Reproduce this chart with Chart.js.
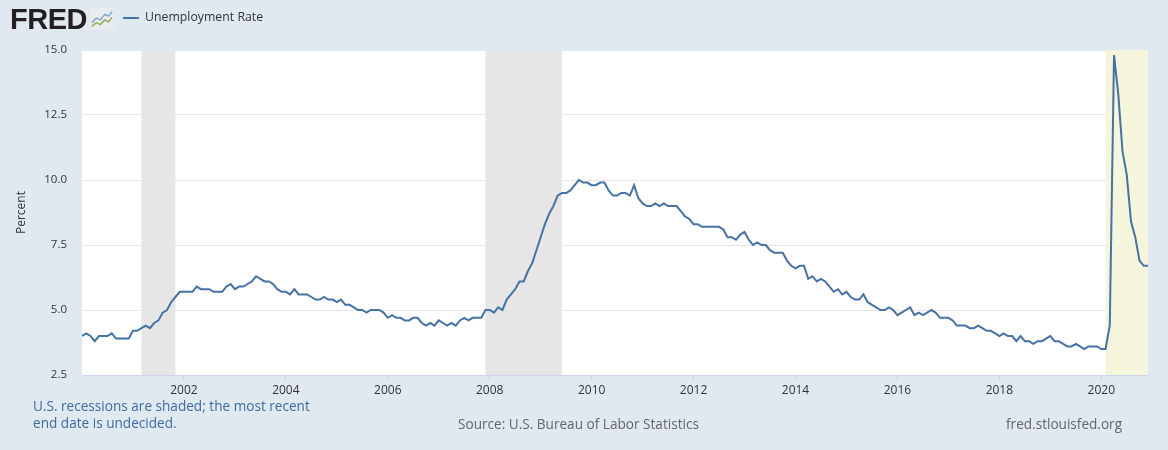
<!DOCTYPE html>
<html>
<head>
<meta charset="utf-8">
<script src="https://cdn.jsdelivr.net/npm/chart.js@4.4.1/dist/chart.umd.min.js"></script>
<style>
  html, body { margin: 0; padding: 0; background: #e1e9f0; }
  #wrap { position: relative; width: 1168px; height: 450px; overflow: hidden; font-family: "Open Sans", "Noto Sans", sans-serif; }
  #myChart { position: absolute; left: 0; top: 0; }
  .logo { position: absolute; left: 10px; top: 3px; font-family: "Liberation Sans", Arial, sans-serif; font-weight: bold; font-size: 29px; letter-spacing: -0.5px; color: #231f20; }
  .legend { position: absolute; left: 123px; top: 8px; font-size: 12.3px; color: #333; }
  .legend span.sw { display: inline-block; width: 16px; height: 2px; background: #4572a7; vertical-align: middle; margin-right: 6px; }
  .note { position: absolute; left: 33px; top: 397px; font-size: 13.6px; line-height: 17px; color: #3e6ba4; }
  .src { position: absolute; left: 458px; top: 414px; font-size: 13.6px; color: #666; }
  .site { position: absolute; left: 1006px; top: 414px; font-size: 13.6px; color: #666; }
</style>
</head>
<body>
<div id="wrap">
  <canvas id="myChart" width="1168" height="450"></canvas>
  <div class="logo">FRED<svg width="24" height="22" viewBox="0 0 26 22" style="vertical-align: -1px; margin-left: 3px; background:#e8ecee;">
    <polyline points="2,15 7,10 11,12 16,6 20,8 24,3" fill="none" stroke="#7ea3c8" stroke-width="1.5"/>
    <polyline points="2,19 7,15 11,17 16,12 20,14 24,9" fill="none" stroke="#8ab04f" stroke-width="1.5"/>
  </svg></div>
  <div class="legend"><span class="sw"></span>Unemployment Rate</div>
  <div class="note">U.S. recessions are shaded; the most recent<br>end date is undecided.</div>
  <div class="src">Source: U.S. Bureau of Labor Statistics</div>
  <div class="site">fred.stlouisfed.org</div>
</div>
<script>
// monthly unemployment rate, Jan 2000 .. Dec 2020 (one row per year)
var startYear = 2000;
var unrate = [
  4.0, 4.1, 4.0, 3.8, 4.0, 4.0, 4.0, 4.1, 3.9, 3.9, 3.9, 3.9,
  4.2, 4.2, 4.3, 4.4, 4.3, 4.5, 4.6, 4.9, 5.0, 5.3, 5.5, 5.7,
  5.7, 5.7, 5.7, 5.9, 5.8, 5.8, 5.8, 5.7, 5.7, 5.7, 5.9, 6.0,
  5.8, 5.9, 5.9, 6.0, 6.1, 6.3, 6.2, 6.1, 6.1, 6.0, 5.8, 5.7,
  5.7, 5.6, 5.8, 5.6, 5.6, 5.6, 5.5, 5.4, 5.4, 5.5, 5.4, 5.4,
  5.3, 5.4, 5.2, 5.2, 5.1, 5.0, 5.0, 4.9, 5.0, 5.0, 5.0, 4.9,
  4.7, 4.8, 4.7, 4.7, 4.6, 4.6, 4.7, 4.7, 4.5, 4.4, 4.5, 4.4,
  4.6, 4.5, 4.4, 4.5, 4.4, 4.6, 4.7, 4.6, 4.7, 4.7, 4.7, 5.0,
  5.0, 4.9, 5.1, 5.0, 5.4, 5.6, 5.8, 6.1, 6.1, 6.5, 6.8, 7.3,
  7.8, 8.3, 8.7, 9.0, 9.4, 9.5, 9.5, 9.6, 9.8, 10.0, 9.9, 9.9,
  9.8, 9.8, 9.9, 9.9, 9.6, 9.4, 9.4, 9.5, 9.5, 9.4, 9.8, 9.3,
  9.1, 9.0, 9.0, 9.1, 9.0, 9.1, 9.0, 9.0, 9.0, 8.8, 8.6, 8.5,
  8.3, 8.3, 8.2, 8.2, 8.2, 8.2, 8.2, 8.1, 7.8, 7.8, 7.7, 7.9,
  8.0, 7.7, 7.5, 7.6, 7.5, 7.5, 7.3, 7.2, 7.2, 7.2, 6.9, 6.7,
  6.6, 6.7, 6.7, 6.2, 6.3, 6.1, 6.2, 6.1, 5.9, 5.7, 5.8, 5.6,
  5.7, 5.5, 5.4, 5.4, 5.6, 5.3, 5.2, 5.1, 5.0, 5.0, 5.1, 5.0,
  4.8, 4.9, 5.0, 5.1, 4.8, 4.9, 4.8, 4.9, 5.0, 4.9, 4.7, 4.7,
  4.7, 4.6, 4.4, 4.4, 4.4, 4.3, 4.3, 4.4, 4.3, 4.2, 4.2, 4.1,
  4.0, 4.1, 4.0, 4.0, 3.8, 4.0, 3.8, 3.8, 3.7, 3.8, 3.8, 3.9,
  4.0, 3.8, 3.8, 3.7, 3.6, 3.6, 3.7, 3.6, 3.5, 3.6, 3.6, 3.6,
  3.5, 3.5, 4.4, 14.8, 13.3, 11.1, 10.2, 8.4, 7.8, 6.9, 6.7, 6.7
];
// recessions as [start, end] in year fractions (Mar 2001-Nov 2001, Dec 2007-Jun 2009, Feb 2020-?)
var recessions = [[2001 + 2/12, 2001 + 10/12], [2007 + 11/12, 2009 + 5/12]];
var openRecession = 2020 + 1/12;
var xTicks = [2002, 2004, 2006, 2008, 2010, 2012, 2014, 2016, 2018, 2020];
var yTicks = [2.5, 5.0, 7.5, 10.0, 12.5, 15.0];

var points = [];
$each = function (arr, fn) { for (var i = 0; i < arr.length; i++) fn(i, arr[i]); };
$each(unrate, function (i, v) {
    points.push({ x: startYear + i / 12, y: v });
});

// white plot area + recession bars
var shading = {
    id: 'shading',
    beforeDatasetsDraw: function (chart) {
        var ctx = chart.ctx, a = chart.chartArea, xs = chart.scales.x;
        ctx.save();
        ctx.fillStyle = '#e6e6e6';
        recessions.forEach(function (r) {
            var x0 = xs.getPixelForValue(r[0]), x1 = xs.getPixelForValue(r[1]);
            ctx.fillRect(x0, a.top, x1 - x0, a.bottom - a.top);
        });
        ctx.fillStyle = '#f4f5da';
        var xo = xs.getPixelForValue(openRecession);
        ctx.fillRect(xo, a.top, a.right - xo, a.bottom - a.top);
        ctx.restore();
    },
    beforeDraw: function (chart) {
        var ctx = chart.ctx, a = chart.chartArea;
        ctx.save();
        ctx.fillStyle = '#ffffff';
        ctx.fillRect(a.left, a.top, a.right - a.left, a.bottom - a.top);
        ctx.restore();
    }
};

const config = {
    type: 'line',
    data: {
        datasets: [{
            label: 'Unemployment Rate',
            data: points,
            borderColor: '#4572a7',
            borderWidth: 2,
            pointRadius: 0,
            tension: 0,
            fill: false
        }]
    },
    plugins: [shading],
    options: {
        responsive: false,
        animation: false,
        layout: { padding: { top: 50, right: 20, left: 0, bottom: 0 } },
        scales: {
            x: {
                type: 'linear',
                min: startYear,
                max: startYear + (unrate.length - 1) / 12,
                afterBuildTicks: function (scale) {
                    scale.ticks = xTicks.map(function (v) { return { value: v }; });
                },
                afterFit: function (scale) { scale.height = 75; },
                border: { display: true, color: '#ccd6eb', width: 1 },
                grid: { drawOnChartArea: false, drawTicks: true, tickLength: 6, color: '#ccd6eb' },
                ticks: {
                    autoSkip: false, maxRotation: 0, padding: 2,
                    color: '#333', font: { family: 'Open Sans', size: 12 },
                    callback: function (v) { return '' + v; }
                }
            },
            y: {
                min: 2.5, max: 15,
                afterBuildTicks: function (scale) {
                    scale.ticks = yTicks.map(function (v) { return { value: v }; });
                },
                afterFit: function (scale) { scale.width = 82; },
                border: { display: false },
                grid: { color: '#e6e6e6', drawTicks: false },
                ticks: {
                    padding: 15, color: '#333', font: { family: 'Open Sans', size: 11.5 },
                    callback: function (v) { return v.toFixed(1); }
                },
                title: {
                    display: true, text: 'Percent', color: '#333', padding: { top: 14, bottom: 0 },
                    font: { family: 'Open Sans', size: 12 }
                }
            }
        },
        plugins: {
            legend: { display: false },
            tooltip: { enabled: false }
        }
    }
};

window.myLine = new Chart(document.getElementById('myChart'), config);
</script>
</body>
</html>
